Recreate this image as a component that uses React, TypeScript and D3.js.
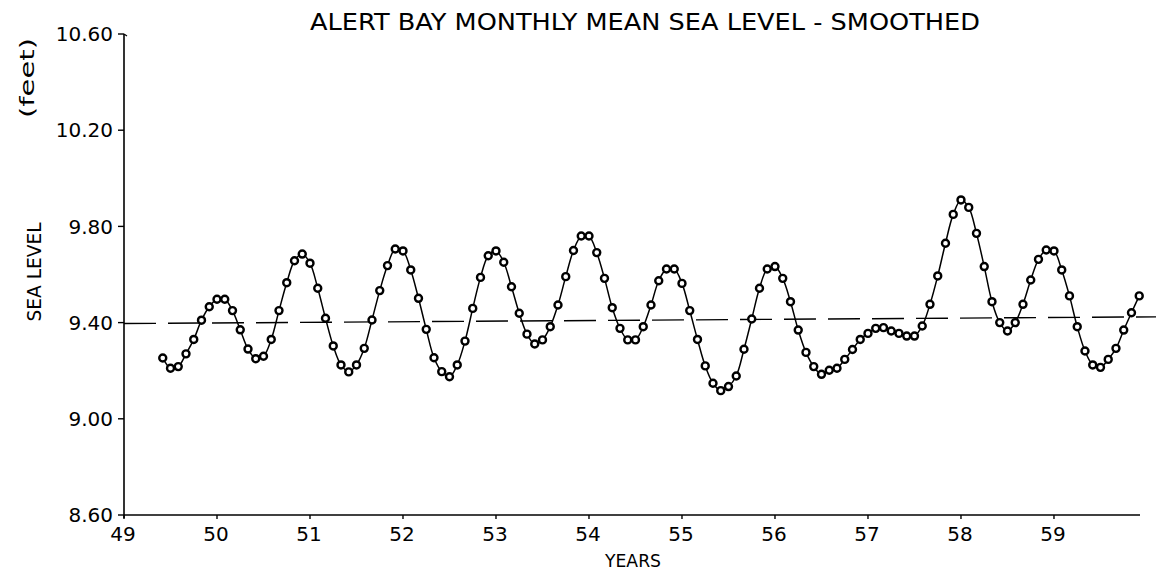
import React from "react";
import * as d3 from "d3";

// ---- data ----
const title = "ALERT BAY MONTHLY MEAN SEA LEVEL - SMOOTHED";
const xAxisTitle = "YEARS";
const yAxisTitle = "SEA LEVEL";
const yUnits = "(feet)";
const firstMonth = 49 + 5 / 12; // first monthly point
const seaLevel = [
  9.253, 9.21, 9.217, 9.27, 9.33, 9.41, 9.466, 9.497, 9.497, 9.45, 9.37, 9.29,
  9.25, 9.26, 9.33, 9.45, 9.566, 9.657, 9.685, 9.647, 9.543, 9.418, 9.303, 9.224,
  9.195, 9.224, 9.293, 9.411, 9.533, 9.637, 9.706, 9.698, 9.619, 9.501, 9.372, 9.254,
  9.196, 9.175, 9.224, 9.323, 9.459, 9.588, 9.678, 9.698, 9.651, 9.549, 9.439, 9.352,
  9.311, 9.328, 9.383, 9.473, 9.591, 9.7, 9.76, 9.76, 9.691, 9.584, 9.462, 9.376,
  9.328, 9.328, 9.383, 9.473, 9.574, 9.623, 9.623, 9.563, 9.45, 9.33, 9.22, 9.148,
  9.117, 9.134, 9.178, 9.289, 9.415, 9.543, 9.623, 9.633, 9.584, 9.487, 9.369, 9.276,
  9.217, 9.185, 9.202, 9.21, 9.247, 9.288, 9.33, 9.355, 9.376, 9.379, 9.365, 9.355,
  9.344, 9.344, 9.386, 9.476, 9.594, 9.73, 9.85, 9.91, 9.879, 9.771, 9.633, 9.487,
  9.4, 9.365, 9.4, 9.476, 9.577, 9.663, 9.702, 9.698, 9.619, 9.511, 9.383, 9.282,
  9.224, 9.214, 9.247, 9.293, 9.369, 9.441, 9.511,
];
const trendYears = [49, 60.1];
const trendValues = [9.396, 9.424];
const xTicks = [49, 50, 51, 52, 53, 54, 55, 56, 57, 58, 59];
const yTicks = [8.6, 9.0, 9.4, 9.8, 10.2, 10.6];

const W = 1156;
const H = 572;
const FONT = "'DejaVu Sans', sans-serif";

export default function App() {
  const x = d3.scaleLinear().domain([49, 59.925]).range([124, 1140]);
  const y = d3.scaleLinear().domain([8.6, 10.6]).range([515, 34]);

  const pts = seaLevel.map((v, i) => ({ t: firstMonth + i / 12, v }));
  const line = d3
    .line<{ t: number; v: number }>()
    .x((d) => x(d.t))
    .y((d) => y(d.v))
    .curve(d3.curveCatmullRom);

  const trend = trendYears.map((t, i) => ({ t, v: trendValues[i] }));
  const trendLine = d3
    .line<{ t: number; v: number }>()
    .x((d) => x(d.t))
    .y((d) => y(d.v));

  const x0 = x.range()[0];
  const x1 = x.range()[1];
  const yb = y.range()[0];
  const yt = y.range()[1];

  return (
    <svg
      width={W}
      height={H}
      style={{ position: "absolute", left: 0, top: 0, background: "#fff" }}
      fontFamily={FONT}
    >
      <rect x={0} y={0} width={W} height={H} fill="#fff" />
      {/* title */}
      <text x={310} y={30} fontSize={23} textLength={670} lengthAdjust="spacingAndGlyphs" fill="#000">
        {title}
      </text>

      {/* dashed reference line */}
      <path d={trendLine(trend) || ""} fill="none" stroke="#000" strokeWidth={1.4} strokeDasharray="32 12" />

      {/* axes */}
      <line x1={x0} y1={yb} x2={x1} y2={yb} stroke="#000" strokeWidth={1.6} />
      <line x1={x0} y1={yb + 3} x2={x0} y2={yt} stroke="#000" strokeWidth={1.6} />
      <line x1={x0} y1={yt} x2={x0 + 3} y2={yt + 2} stroke="#000" strokeWidth={1.2} />
      {yTicks.map((t) => (
        <g key={"y" + t}>
          <line x1={x0 - 6} y1={y(t)} x2={x0} y2={y(t)} stroke="#000" strokeWidth={1.4} />
          <text
            x={x0 - 11}
            y={y(t)}
            dy="0.36em"
            fontSize={20}
            textAnchor="end"
            fill="#000"
          >
            {t.toFixed(2)}
          </text>
        </g>
      ))}
      {xTicks.map((t) => (
        <g key={"x" + t}>
          <line x1={x(t)} y1={yb} x2={x(t)} y2={yb + 4} stroke="#000" strokeWidth={1.4} />
          <text x={x(t) - 1} y={541} fontSize={20} textAnchor="middle" fill="#000">
            {t}
          </text>
        </g>
      ))}

      {/* axis titles */}
      <text x={633} y={567} fontSize={17} textAnchor="middle" textLength={56} lengthAdjust="spacingAndGlyphs" fill="#000">
        {xAxisTitle}
      </text>
      <text
        transform={`translate(41,272) rotate(-90)`}
        fontSize={19}
        textAnchor="middle"
        textLength={99}
        lengthAdjust="spacingAndGlyphs"
        fill="#000"
      >
        {yAxisTitle}
      </text>
      <text
        transform={`translate(34,78) rotate(-90)`}
        fontSize={20}
        textAnchor="middle"
        textLength={80}
        lengthAdjust="spacingAndGlyphs"
        fill="#000"
      >
        {yUnits}
      </text>

      {/* data */}
      <path d={line(pts) || ""} fill="none" stroke="#000" strokeWidth={1.5} />
      {pts.map((d, i) => (
        <circle key={i} cx={x(d.t)} cy={y(d.v)} r={3.5} fill="#fff" stroke="#000" strokeWidth={2.4} />
      ))}
    </svg>
  );
}
